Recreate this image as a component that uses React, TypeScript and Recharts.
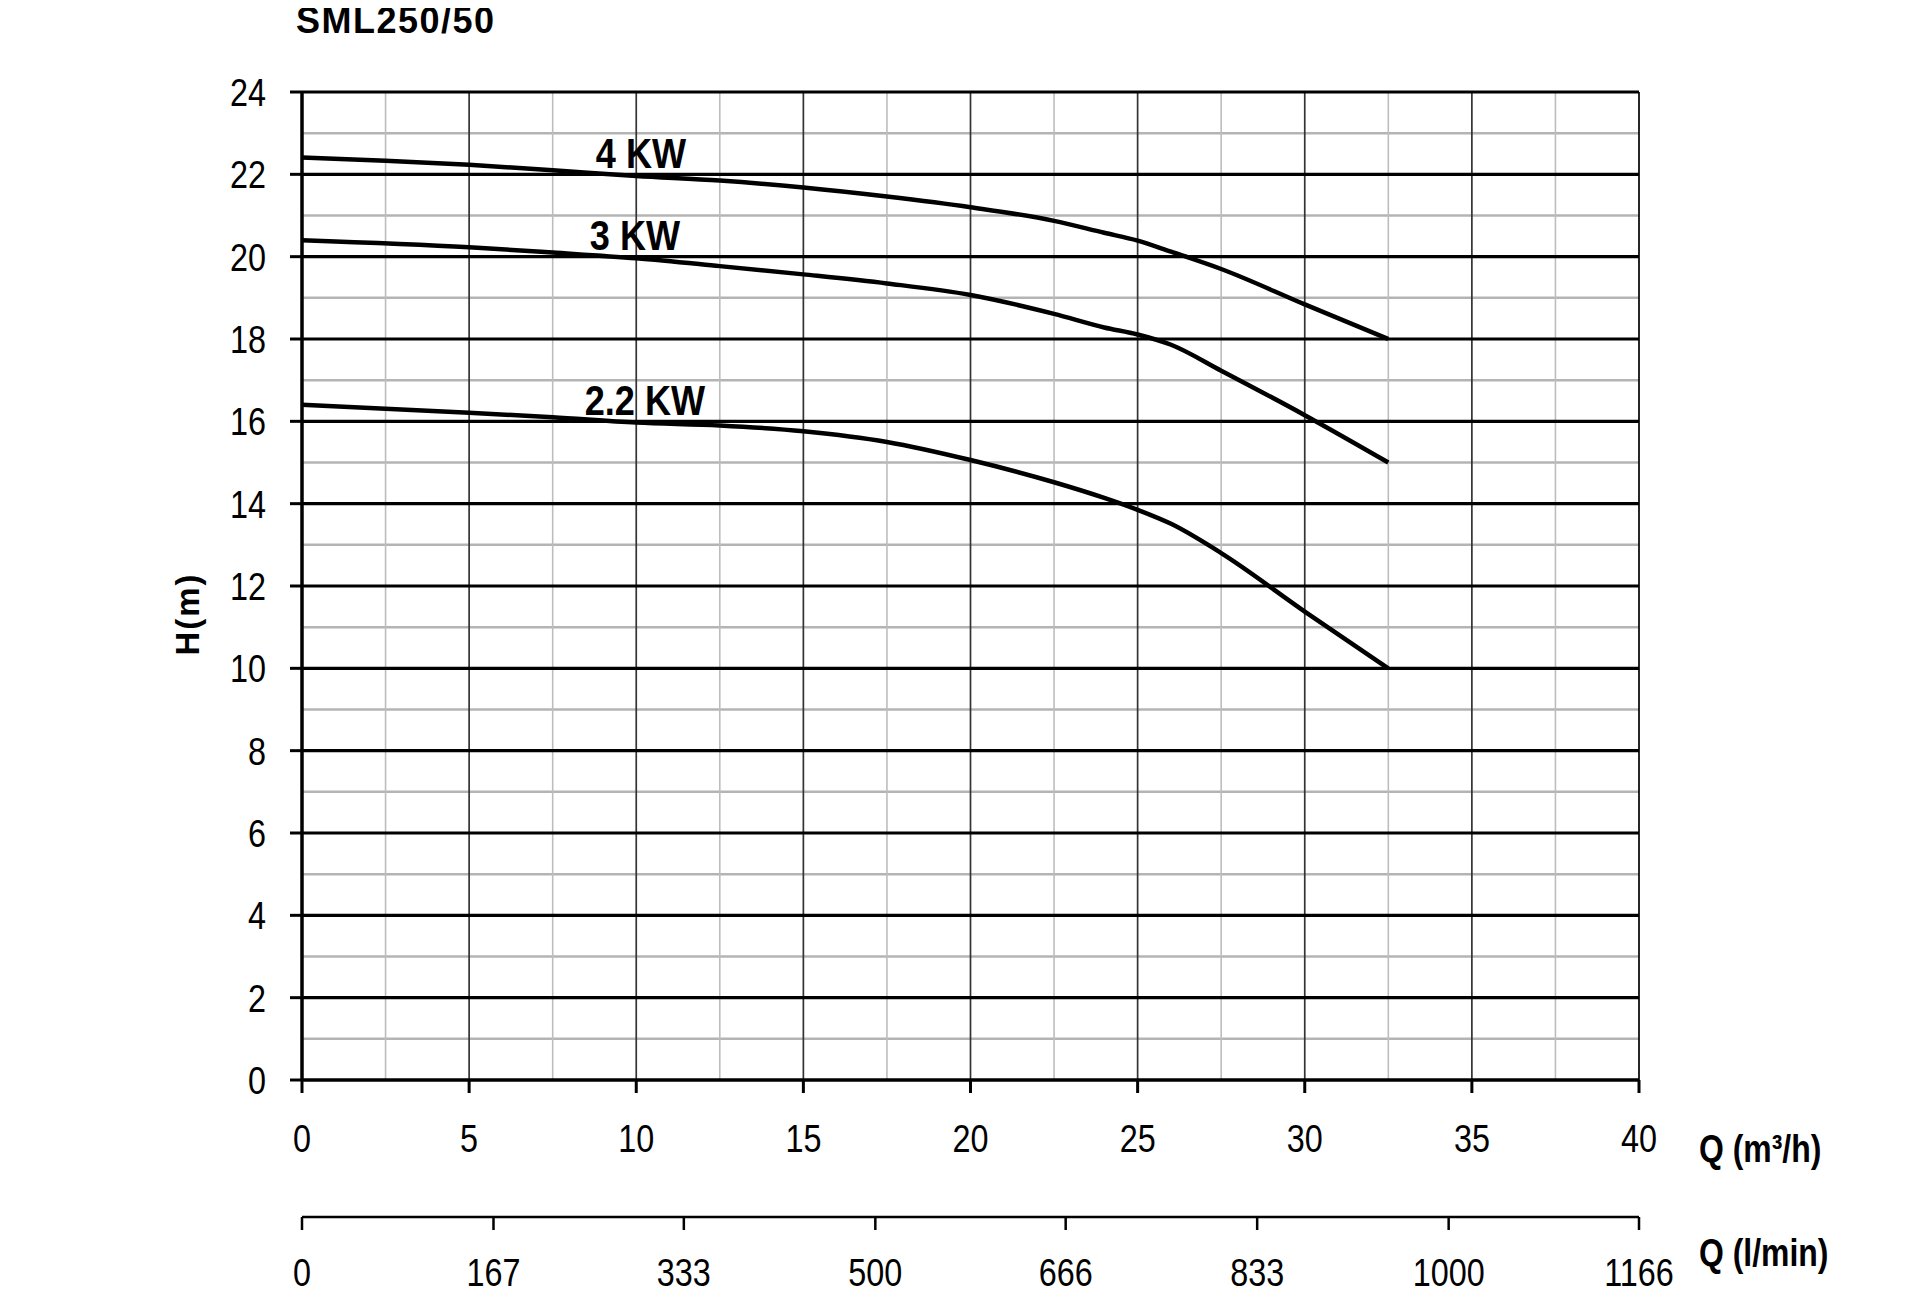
import {
  LineChart,
  Line,
  XAxis,
  YAxis,
  ReferenceLine,
  ReferenceDot,
} from "recharts";

// flow (m3/h) and head (m)
const q4 = [0, 2.5, 5, 7.5, 10, 12.5, 15, 17.5, 20, 22.5, 24, 25, 26, 27.5, 30, 32.5];
const h4 = [22.41, 22.33, 22.23, 22.1, 21.96, 21.85, 21.68, 21.46, 21.2, 20.87, 20.58, 20.39, 20.12, 19.7, 18.84, 18.0];

const q3 = [0, 5, 7.5, 10, 12.5, 15, 17.5, 20, 22.5, 24, 25, 26, 27.5, 30, 32.5];
const h3 = [20.4, 20.23, 20.1, 19.96, 19.77, 19.57, 19.35, 19.07, 18.61, 18.28, 18.11, 17.86, 17.23, 16.15, 15.0];

const q22 = [0, 5, 7.5, 10, 12.5, 15, 17.5, 20, 22.5, 24, 25, 26, 27.5, 30, 32.5];
const h22 = [16.4, 16.21, 16.1, 15.97, 15.9, 15.76, 15.5, 15.06, 14.52, 14.14, 13.85, 13.51, 12.8, 11.38, 10.0];

const curveNames = ["4 KW", "3 KW", "2.2 KW"];
const labelQ = [10.14, 9.96, 10.26];
const labelH = [22.52, 20.52, 16.52];

const qTicks = [0, 5, 10, 15, 20, 25, 30, 35, 40];
const hTicks = [0, 2, 4, 6, 8, 10, 12, 14, 16, 18, 20, 22, 24];
const lminTicks = [0, 167, 333, 500, 666, 833, 1000, 1166];
const qMinor = [2.5, 7.5, 12.5, 17.5, 22.5, 27.5, 32.5, 37.5];
const hMinor = [1, 3, 5, 7, 9, 11, 13, 15, 17, 19, 21, 23];

const toRows = (qs: number[], hs: number[]) => qs.map((q, i) => ({ q, h: hs[i] }));
const series = [toRows(q4, h4), toRows(q3, h3), toRows(q22, h22)];
// only there so the l/min axis gets a domain of its own
const lminRows = lminTicks.map((l) => ({ l, h: 0 }));

const FONT = "'Liberation Sans', Arial, sans-serif";

// the source text is squeezed sideways, so scale the glyphs horizontally
const NarrowText = ({ x, y, anchor, dy, size, bold, sx, children }: any) => (
  <text
    transform={`translate(${x} ${y}) scale(${sx} 1)`}
    textAnchor={anchor}
    dy={dy}
    fontSize={size}
    fontWeight={bold ? 700 : 400}
    fontFamily={FONT}
    fill="#000"
  >
    {children}
  </text>
);

const YTick = ({ x, y, payload }: any) => (
  <NarrowText x={x} y={y} anchor="end" dy="0.355em" size={39} sx={0.83}>
    {payload.value}
  </NarrowText>
);

const XTick = ({ x, y, payload }: any) => (
  <NarrowText x={x} y={y} anchor="middle" dy="0.71em" size={39} sx={0.83}>
    {payload.value}
  </NarrowText>
);

const axisTitle = (text: string) => (props: any) => {
  const { x, y, width, height } = props.viewBox;
  return (
    <NarrowText x={x + width + 60} y={y + height / 2} anchor="start" dy="0.355em" size={38} bold sx={0.84}>
      {text}
    </NarrowText>
  );
};

const HLabel = (props: any) => {
  const { x, y, height } = props.viewBox;
  const cx = x + 45;
  const cy = y + height / 2 + 28;
  return (
    <text
      x={cx}
      y={cy}
      transform={`rotate(-90 ${cx} ${cy})`}
      textAnchor="middle"
      dominantBaseline="central"
      fontFamily={FONT}
      fontWeight={700}
      fontSize={33}
      letterSpacing={2}
      fill="#000"
    >
      H(m)
    </text>
  );
};

const curveLabel = (text: string) => (props: any) => {
  const { x, y, width, height } = props.viewBox;
  return (
    <NarrowText x={x + (width || 0) / 2} y={y + (height || 0) / 2} anchor="middle" dy="0.355em" size={42} bold sx={0.86}>
      {text}
    </NarrowText>
  );
};

export default function App() {
  return (
    <div style={{ position: "relative", width: 1900, height: 1290 }}>
      <div
        style={{
          position: "absolute",
          left: 288,
          top: -5,
          fontFamily: FONT,
          fontWeight: 700,
          fontSize: 36,
          lineHeight: "36px",
          letterSpacing: 1.5,
          color: "#000",
        }}
      >
        SML250/50
      </div>
      <LineChart
        width={1900}
        height={1290}
        margin={{ top: 84, right: 269, left: 134, bottom: 11 }}
      >
        <XAxis
          xAxisId="b"
          dataKey="l"
          type="number"
          domain={[0, 1166]}
          ticks={lminTicks}
          interval={0}
          height={70}
          axisLine={{ stroke: "#000", strokeWidth: 2.5 }}
          tickLine={{ stroke: "#000", strokeWidth: 2.5 }}
          tickSize={13}
          tickMargin={28}
          tick={<XTick />}
          label={{ content: axisTitle("Q (l/min)") }}
        />
        <XAxis
          xAxisId="a"
          dataKey="q"
          type="number"
          domain={[0, 40]}
          ticks={qTicks}
          interval={0}
          height={137}
          axisLine={{ stroke: "#000", strokeWidth: 3.5 }}
          tickLine={{ stroke: "#000", strokeWidth: 3 }}
          tickSize={13}
          tickMargin={31}
          tick={<XTick />}
          label={{ content: axisTitle("Q (m³/h)") }}
        />
        <YAxis
          type="number"
          domain={[0, 24]}
          ticks={hTicks}
          interval={0}
          width={160}
          axisLine={{ stroke: "#000", strokeWidth: 3.5 }}
          tickLine={{ stroke: "#000", strokeWidth: 3 }}
          tickSize={12}
          tickMargin={24}
          tick={<YTick />}
          label={{ content: HLabel }}
        />

        {hMinor.map((h) => (
          <ReferenceLine key={`hm${h}`} xAxisId="a" y={h} stroke="#b4b4b4" strokeWidth={2.5} />
        ))}
        {qMinor.map((q) => (
          <ReferenceLine key={`qm${q}`} xAxisId="a" x={q} stroke="#bdbdbd" strokeWidth={1.6} />
        ))}
        {qTicks.slice(1).map((q) => (
          <ReferenceLine
            key={`qM${q}`}
            xAxisId="a"
            x={q}
            stroke={q === 40 ? "#000" : "#333"}
            strokeWidth={1.7}
          />
        ))}
        {hTicks.slice(1).map((h) => (
          <ReferenceLine key={`hM${h}`} xAxisId="a" y={h} stroke="#000" strokeWidth={3.2} />
        ))}

        <Line
          xAxisId="b"
          data={lminRows}
          dataKey="h"
          stroke="none"
          strokeOpacity={0}
          dot={false}
          activeDot={false}
          isAnimationActive={false}
        />

        {series.map((rows, i) => (
          <Line
            key={curveNames[i]}
            xAxisId="a"
            data={rows}
            dataKey="h"
            type="monotone"
            stroke="#000"
            strokeWidth={4.5}
            dot={false}
            activeDot={false}
            isAnimationActive={false}
          />
        ))}

        {curveNames.map((name, i) => (
          <ReferenceDot
            key={`lbl${name}`}
            xAxisId="a"
            x={labelQ[i]}
            y={labelH[i]}
            r={0}
            stroke="none"
            fill="none"
            label={{ content: curveLabel(name) }}
          />
        ))}
      </LineChart>
    </div>
  );
}
